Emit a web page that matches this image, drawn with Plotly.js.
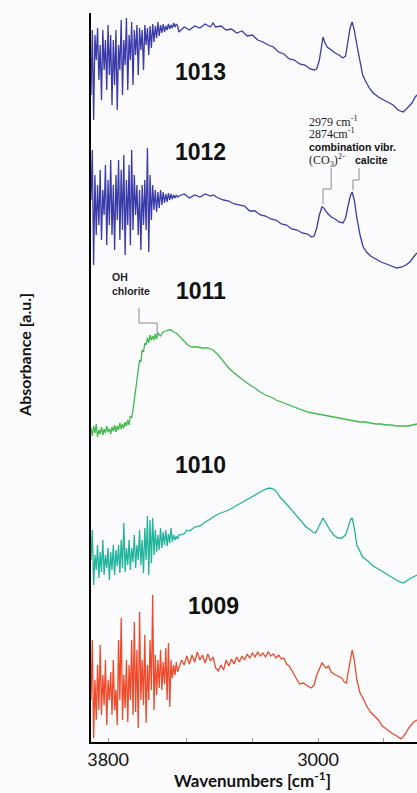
<!DOCTYPE html>
<html><head><meta charset="utf-8">
<script src="https://cdn.plot.ly/plotly-3.0.1.min.js"></script>
<style>html,body{margin:0;padding:0;background:#fcfcfe;}#chart{width:417px;height:793px;}</style>
</head><body><div id="chart"></div>
<script>
// Wavenumbers (cm-1) of the noisy high-frequency region shared by several spectra
const wnNoise = [
3865,3860,3855,3850,3845,3840,3835,3830,3825,3820,
3815,3810,3805,3800,3795,3790,3785,3780,3775,3770,
3765,3760,3755,3750,3745,3740,3735,3730,3725,3720,
3715,3710,3705,3700,3695,3690,3685,3680,3675,3670,
3665,3660,3655,3650,3645,3640,3635,3630,3625,3620,
3615,3610,3605,3600,3595,3590,3585,3580,3575,3570,
3565,3560,3555,3550,3545,3540,3535];

// Sample 1013 (stacked absorbance, a.u.)
const abs1013Noise = [
647,712,622,707,682,714,662,697,642,712,
672,702,652,717,667,707,637,702,657,712,
632,697,672,722,647,702,677,724,652,707,
682,720,657,712,687,717,667,714,692,712,
672,717,697,714,687,716,694,718,700,716,
704,720,706,717,709,718,710,716,712,718,
713,717,714,719,715,718,716];
const wn1013 = [
3530,3510,3490,3470,3450,3430,3410,3400,3390,3370,
3350,3330,3310,3290,3270,3250,3230,3210,3190,3170,
3150,3130,3110,3090,3070,3050,3030,3015,3005,2995,
2988,2981,2975,2965,2950,2935,2920,2905,2895,2885,
2878,2870,2862,2852,2840,2830,2821,2805,2790,2770,
2750,2730,2714,2695,2676,2660,2642,2630,2623];
const abs1013 = [
710,715,712,716,714,718,715,719,715,716,
712,713,709,711,706,707,702,700,697,695,
690,688,683,682,678,677,673,672,673,682,
694,705,700,695,692,689,687,684,686,702,
714,720,712,697,680,667,662,654,649,645,
642,639,637,632,630,634,639,645,647];

// Sample 1012
const abs1012Noise = [
542,592,477,567,507,557,517,572,502,552,
527,577,497,562,517,582,507,557,492,567,
522,582,502,572,512,587,487,562,517,577,
497,592,512,567,527,557,507,552,492,557,
517,562,512,594,490,567,522,557,532,552,
530,550,534,552,537,550,539,548,540,549,
542,548,543,547,544,547,545];
const wn1012 = [
3530,3510,3490,3470,3450,3430,3410,3400,3380,3360,
3340,3320,3300,3280,3260,3240,3220,3200,3180,3160,
3140,3120,3100,3080,3060,3040,3025,3015,3005,2995,
2985,2978,2965,2950,2935,2920,2905,2895,2885,2877,
2870,2862,2852,2840,2828,2815,2800,2780,2760,2740,
2720,2700,2680,2665,2650,2640,2630,2623];
const abs1012 = [
546,548,544,547,545,548,546,547,544,542,
541,538,537,536,531,531,527,526,523,522,
518,517,513,512,509,508,505,506,514,527,
535,534,529,525,523,520,519,524,537,546,
550,542,524,507,495,490,486,483,480,478,
476,474,475,477,480,484,487,489];

// Sample 1011
const wn1011 = [
3865,3860,3855,3850,3845,3840,3835,3830,3825,3820,
3815,3810,3805,3800,3795,3790,3785,3780,3775,3770,
3765,3760,3755,3750,3745,3740,3735,3730,3725,3720,
3715,3710,3705,3700,3695,3690,3685,3680,3675,3670,
3665,3660,3655,3650,3645,3640,3635,3630,3625,3620,
3615,3610,3600,3590,3580,3570,3560,3550,3540,3530,
3520,3510,3500,3490,3480,3460,3440,3420,3400,3380,
3360,3340,3320,3300,3280,3260,3240,3220,3200,3180,
3160,3140,3120,3100,3080,3060,3040,3020,3000,2980,
2960,2940,2920,2900,2880,2860,2840,2820,2800,2780,
2760,2740,2720,2700,2680,2660,2640,2623];
const abs1011 = [
314,306,316,309,318,305,312,308,315,307,
313,309,316,310,313,308,315,311,317,310,
316,312,319,313,318,314,320,316,322,317,
326,324,332,342,350,364,370,382,380,392,
390,399,397,404,399,407,402,406,402,408,
403,409,406,410,411,412,412,410,409,406,
403,400,398,396,395,395,394,394,392,387,
380,374,369,365,361,357,354,350,347,345,
342,340,338,336,334,332,330,329,328,327,
326,325,324,323,322,321,320,320,319,318,
318,317,317,316,316,316,317,318];

// Sample 1010
const abs1010Noise = [
182,212,157,187,172,197,164,190,170,202,
167,187,174,194,162,190,172,197,167,192,
176,197,169,202,174,219,170,194,177,202,
172,194,180,207,174,197,182,212,177,202,
169,214,182,226,167,222,179,224,187,212,
190,207,192,214,194,210,197,212,196,208,
199,214,200,207,202,206,203];
const wn1010 = [
3530,3510,3500,3490,3470,3450,3430,3410,3400,3380,
3360,3340,3320,3300,3280,3260,3240,3220,3200,3185,
3170,3160,3145,3120,3095,3070,3045,3020,3010,3000,
2990,2981,2970,2955,2940,2925,2910,2895,2885,2877,
2870,2862,2852,2830,2810,2790,2764,2740,2715,2695,
2676,2660,2645,2630,2623];
const abs1010 = [
207,208,212,211,215,216,220,223,225,228,
230,232,235,238,241,244,247,250,253,254,
253,251,245,238,230,222,215,210,209,214,
220,224,219,212,207,204,204,207,215,222,
224,214,197,185,181,176,172,168,164,161,
159,162,164,166,167];

// Sample 1009
const abs1009Noise = [
42,102,4,62,22,77,32,97,27,67,
37,82,17,62,42,70,27,82,32,52,
17,102,42,124,22,67,34,82,20,77,
42,102,27,120,30,92,14,130,42,82,
37,107,19,77,42,102,52,147,32,87,
47,82,54,92,52,80,58,94,42,99,
35,82,64,77,67,80,70];
const wn1009 = [
3530,3520,3510,3500,3490,3480,3470,3460,3450,3440,
3430,3420,3410,3400,3390,3380,3370,3360,3350,3340,
3330,3320,3310,3300,3290,3280,3270,3260,3250,3240,
3230,3220,3210,3200,3190,3180,3170,3160,3150,3140,
3130,3120,3110,3100,3090,3080,3070,3055,3040,3025,
3015,3005,2995,2985,2978,2970,2960,2950,2940,2925,
2910,2900,2892,2885,2877,2870,2862,2852,2840,2829,
2815,2800,2785,2770,2755,2740,2720,2700,2685,2676,
2665,2655,2645,2635,2623];
const abs1009 = [
74,82,77,86,78,87,80,90,82,87,
79,88,81,85,74,71,77,72,82,76,
83,78,85,80,86,82,88,84,89,85,
90,86,89,85,90,86,88,84,87,83,
84,78,76,72,67,62,58,59,56,54,
57,67,74,79,77,74,76,70,68,66,
64,60,59,70,84,92,82,62,49,44,
36,30,26,22,16,13,9,6,3,5,
9,14,17,20,22];

const sampleLabels = ['1013','1012','1011','1010','1009'];
const tickVals = [3800,3000];
const tickText = ['3800','3000'];
const minorTickVals = [3500,3250,2750];

const colors = {'1013':'#3a3aa8','1012':'#3a3aa8','1011':'#3fb94a','1010':'#22b39d','1009':'#f04a2a'};

function tr(name, x, y){
  return {type:'scatter', mode:'lines', name:name, x:x, y:y,
    line:{color:colors[name], width:1.3}, hoverinfo:'skip'};
}
const traces = [
  tr('1013', wnNoise.concat(wn1013), abs1013Noise.concat(abs1013)),
  tr('1012', wnNoise.concat(wn1012), abs1012Noise.concat(abs1012)),
  tr('1011', wn1011, abs1011),
  tr('1010', wnNoise.concat(wn1010), abs1010Noise.concat(abs1010)),
  tr('1009', wnNoise.concat(wn1009), abs1009Noise.concat(abs1009))
];

const serif = '"Liberation Serif", "Times New Roman", serif';
const sansB = '"Liberation Sans", Arial, sans-serif';
const calib = 'Lato, Carlito, sans-serif';

const labelPos = [[3446,670],[3446,590],[3446,451],[3446,277],[3400,136]];
const annotations = sampleLabels.map((s,i)=>({
  x:labelPos[i][0], y:labelPos[i][1], xref:'x', yref:'y', text:'<b>'+s+'</b>',
  showarrow:false, xanchor:'center', yanchor:'middle',
  font:{family:sansB, size:23, color:'#111'}
}));
annotations.push(
  {x:3792, y:458, xref:'x', yref:'y', text:'<b>OH<br>chlorite</b>', showarrow:false, xanchor:'left', yanchor:'middle', align:'left',
   font:{family:sansB, size:10.5, color:'#222'}},
  {x:3042, y:621, xref:'x', yref:'y', text:'2979 cm<sup>-1</sup>', showarrow:false, xanchor:'left', yanchor:'middle',
   font:{family:serif, size:12, color:'#222'}},
  {x:3042, y:609, xref:'x', yref:'y', text:'2874cm<sup>-1</sup>', showarrow:false, xanchor:'left', yanchor:'middle',
   font:{family:serif, size:12, color:'#222'}},
  {x:3042, y:595, xref:'x', yref:'y', text:'<b>combination vibr.</b>', showarrow:false, xanchor:'left', yanchor:'middle',
   font:{family:sansB, size:10.5, color:'#111'}},
  {x:3042, y:582, xref:'x', yref:'y', text:'(CO<sub>3</sub>)<sup>2-</sup>', showarrow:false, xanchor:'left', yanchor:'middle',
   font:{family:serif, size:12, color:'#222'}},
  {x:2867, y:582, xref:'x', yref:'y', text:'<b>calcite</b>', showarrow:false, xanchor:'left', yanchor:'middle',
   font:{family:sansB, size:10.5, color:'#111'}},
  {x:0.494, y:-0.0699, xref:'paper', yref:'paper', text:'<b>Wavenumbers [cm<sup>-1</sup>]</b>', showarrow:false,
   xanchor:'center', yanchor:'bottom', font:{family:calib, size:17, color:'#111'}},
  {x:-0.2025, y:0.531, xref:'paper', yref:'paper', text:'<b>Absorbance [a.u.]</b>', showarrow:false, textangle:-90,
   xanchor:'center', yanchor:'middle', font:{family:calib, size:16, color:'#111'}}
);

const lineStyle = {color:'#8a8a8a', width:1};
const shapes = [
  {type:'path', xref:'x', yref:'y', path:'M 3682,434 L 3682,419 L 3613,419 L 3613,407', line:lineStyle},
  {type:'path', xref:'x', yref:'y', path:'M 2950,574 L 2950,553 L 2981,553 L 2981,538', line:lineStyle},
  {type:'path', xref:'x', yref:'y', path:'M 2844,574 L 2844,562 L 2867,562 L 2867,552', line:lineStyle}
];

const layout = {
  width:417, height:793,
  margin:{l:91, r:0, t:13, b:51},
  paper_bgcolor:'#fcfcfe', plot_bgcolor:'#fcfcfe',
  showlegend:false,
  xaxis:{range:[3865,2623], tickmode:'array', tickvals:tickVals, ticktext:tickText,
    ticks:'inside', ticklen:4, tickcolor:'#999', tickwidth:1,
    minor:{tickmode:'array', tickvals:minorTickVals, ticks:'inside', ticklen:4, tickcolor:'#999', tickwidth:1, showgrid:false},
    showgrid:false, zeroline:false, showline:true, linecolor:'#000', linewidth:2,
    tickfont:{family:calib, size:18, color:'#111'}},
  yaxis:{range:[0,729], showticklabels:false, ticks:'', showgrid:false, zeroline:false,
    showline:true, linecolor:'#000', linewidth:2},
  annotations:annotations,
  shapes:shapes
};
Plotly.newPlot('chart', traces, layout, {staticPlot:true, displayModeBar:false});
</script>
</body></html>
